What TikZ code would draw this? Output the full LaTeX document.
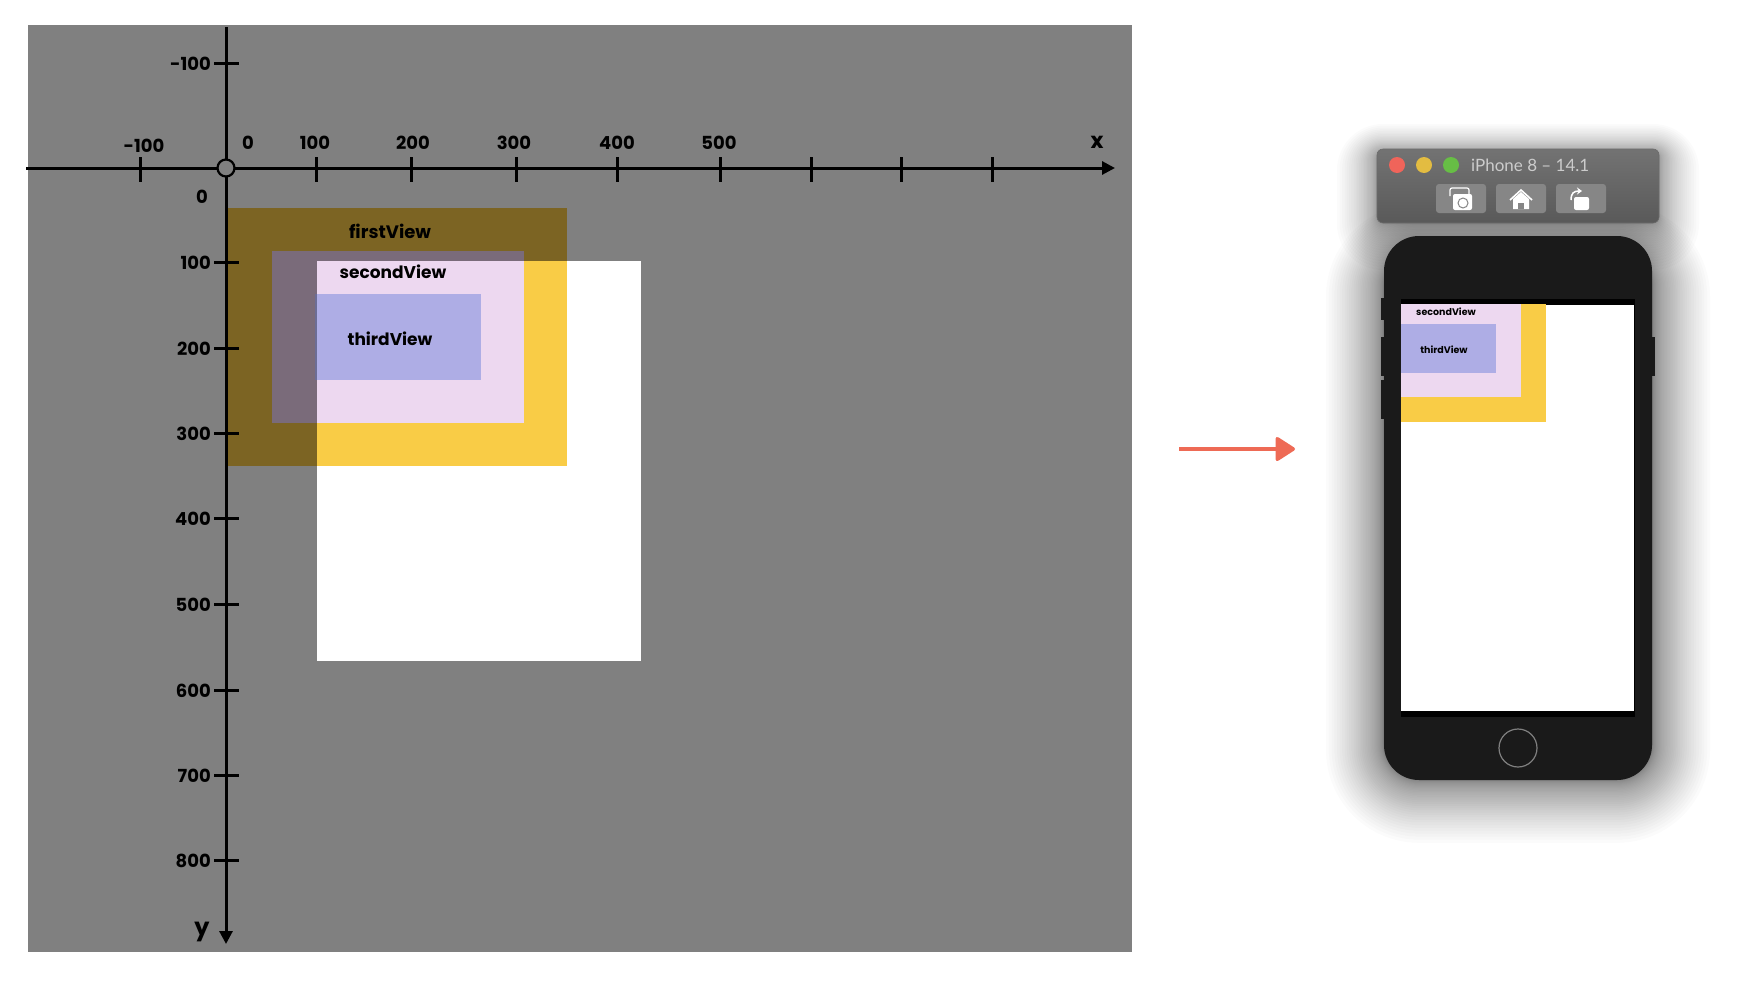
\documentclass[tikz,border=0pt]{standalone}
\usepackage{fontspec}
\setmainfont{Poppins}
\newfontfamily\simfont{Lato}
\usetikzlibrary{arrows.meta,calc}

\definecolor{bggray}{HTML}{808080}
\definecolor{firstlight}{HTML}{F9CC46}
\definecolor{firstdark}{HTML}{7C6423}
\definecolor{secondlight}{HTML}{EDD8F0}
\definecolor{seconddark}{HTML}{7A6B7A}
\definecolor{thirdfill}{HTML}{AEADE5}
\definecolor{thirdedge}{HTML}{6C6D95}
\definecolor{bodygray}{HTML}{1A1A1A}
\definecolor{pengray}{HTML}{868686}
\definecolor{penred}{HTML}{EE6A55}
\definecolor{closered}{HTML}{F0645A}
\definecolor{minyellow}{HTML}{E3BC41}
\definecolor{zoomgreen}{HTML}{67BE45}

\begin{document}
\begin{tikzpicture}[
    x=1pt, y=-1pt,
    axisline/.style={line width=3pt, black},
    axishead/.style={-{Triangle[length=13pt,width=13pt]}},
    ticklabel/.style={font=\fontsize{18}{20}\selectfont\bfseries, text=black, inner sep=0pt},
    viewlabel/.style={font=\fontsize{17}{20}\selectfont\bfseries, text=black, inner sep=0pt},
    phonelabel/.style={font=\fontsize{9.5}{11}\selectfont\bfseries, text=black, inner sep=0pt},
    winbutton/.style={fill=pengray, rounded corners=3pt},
    trafficlight/.style={circle, minimum size=16pt, inner sep=0pt}
]
\useasboundingbox (0,0) rectangle (1758,988);
\fill[white] (0,0) rectangle (1758,988);

% coordinate plane
\fill[bggray] (28,25) rectangle (1132,952);
\fill[white] (317,261) rectangle (641,661);
\fill[firstdark] (228,208) rectangle (567,466);
\fill[seconddark] (272,251) rectangle (524,423);
\begin{scope}
  \clip (317,261) rectangle (641,661);
  \fill[firstlight] (228,208) rectangle (567,466);
  \fill[secondlight] (272,251) rectangle (524,423);
\end{scope}
\fill[thirdfill] (317,294) rectangle (481,380);
\fill[thirdedge] (315,294) rectangle (317,380);

\node[viewlabel, font=\fontsize{18}{20}\selectfont\bfseries] (first) at (390,231) {firstView};
\node[viewlabel] (second) at (393,272) {secondView};
\node[viewlabel] (third) at (390,339) {thirdView};

% axes
\coordinate (xstart) at (26,168);
\coordinate (xend) at (1115,168);
\coordinate (ystart) at (226,27);
\coordinate (yend) at (226,944);
\draw[axisline, axishead] (xstart) -- (xend);
\draw[axisline, axishead] (ystart) -- (yend);
\node[circle, draw=black, line width=2.2pt, fill=bggray, minimum size=17pt, inner sep=0pt] (origin) at (226,168) {};

\foreach \tx in {140,316,411,516,617,720,811,901,992}
  \draw[axisline] (\tx,157) -- (\tx,182);
\foreach \ty in {63,262,348,433,518,604,690,775,860}
  \draw[axisline] (214,\ty+0.5) -- (239,\ty+0.5);

\foreach \tx/\lab in {248/0,315/100,413/200,514/300,617/400,719/500}
  \node[ticklabel] (xl\lab) at (\tx,143) {\lab};
\node[ticklabel] (xlneg) at (144,146) {-100};
\node[ticklabel, font=\fontsize{22}{24}\selectfont\bfseries] (xname) at (1097,142) {x};

\foreach \ty/\lab in {262/100,348/200,433/300,518/400,604/500,690/600,775/700,860/800}
  \node[ticklabel, anchor=east] (yl\lab) at (211,\ty+1) {\lab};
\node[ticklabel, anchor=east] (ylneg) at (211,63.5) {-100};
\node[ticklabel] (yl0) at (202,197) {0};
\node[ticklabel, font=\fontsize{24}{26}\selectfont\bfseries] (yname) at (202,932) {y};

% arrow to the simulator
\coordinate (penstart) at (1179,449);
\coordinate (penend) at (1295,449);
\draw[penred, line width=3.5pt, -{Triangle[length=21pt,width=26pt,round]}] (penstart) -- (penend);

% shadows
\foreach \i [evaluate=\i as \r using 58*(\i/40)^2, evaluate=\i as \rc using 35+58*(\i/40)^2] in {1,...,40}
  \fill[black, opacity=0.014, rounded corners=\rc pt] (1384-\r,250-0.8*\r) rectangle (1652+\r,779+1.1*\r);
\foreach \i [evaluate=\i as \r using 40*(\i/30)^2, evaluate=\i as \rc using 6+40*(\i/30)^2] in {1,...,30}
  \fill[black, opacity=0.014, rounded corners=\rc pt] (1377-\r,152-0.7*\r) rectangle (1659+\r,222+1.2*\r);

% phone
\fill[bodygray] (1381,298) rectangle (1390,320);
\fill[bodygray] (1381,337) rectangle (1390,376);
\fill[bodygray] (1381,380) rectangle (1390,419);
\fill[bodygray] (1645,337) rectangle (1655,376);
\fill[bodygray, rounded corners=35pt] (1384,236) rectangle (1652,780);
\fill[black] (1401,299) rectangle (1635,717);
\fill[white] (1401,305) rectangle (1634,711);
\fill[firstlight] (1401,304) rectangle (1546,422);
\fill[secondlight] (1401,304) rectangle (1521,397);
\fill[thirdfill] (1401,324) rectangle (1496,373);
\node[phonelabel] (phonesecond) at (1446,312) {secondView};
\node[phonelabel] (phonethird) at (1444,350) {thirdView};
\node[circle, draw=gray, line width=1.2pt, minimum size=38pt, inner sep=0pt] (homebutton) at (1518,748) {};

% simulator window
\draw[black!58, line width=0.6pt, rounded corners=6pt, top color=black!55, bottom color=black!65] (1377,149) rectangle (1659,223);
\node[trafficlight, fill=closered] (closedot) at (1397,165) {};
\node[trafficlight, fill=minyellow] (mindot) at (1424,165) {};
\node[trafficlight, fill=zoomgreen] (zoomdot) at (1451,165) {};
\node[anchor=west, inner sep=0pt, text=white!80!black, font=\fontsize{17}{18}\simfont] (wintitle) at (1471,165) {iPhone 8 – 14.1};
\fill[winbutton] (1436,184) rectangle (1486,213);
\fill[winbutton] (1496,184) rectangle (1546,213);
\fill[winbutton] (1556,184) rectangle (1606,213);

% camera icon
\draw[white, line width=1.2pt, rounded corners=2pt] (1450,196) -- (1450,188) -- (1469,188) -- (1469,194);
\fill[white, rounded corners=2pt] (1453,194) rectangle (1472,210);
\draw[pengray, line width=1pt] (1463,203) circle (5);
% home icon
\draw[white, line width=1.6pt] (1510,200) -- (1521,190) -- (1532,200);
\fill[white] (1521,192) -- (1529,199) -- (1529,209) -- (1513,209) -- (1513,199) -- cycle;
\fill[pengray] (1518,203) rectangle (1524,209);
% rotate icon
\fill[white, rounded corners=2pt] (1574,197) rectangle (1589,210);
\draw[white, line width=1.5pt, -{Stealth[length=5pt,width=7pt]}] (1571,200) .. controls (1571,193) and (1574,191) .. (1582,191);
\end{tikzpicture}
\end{document}
